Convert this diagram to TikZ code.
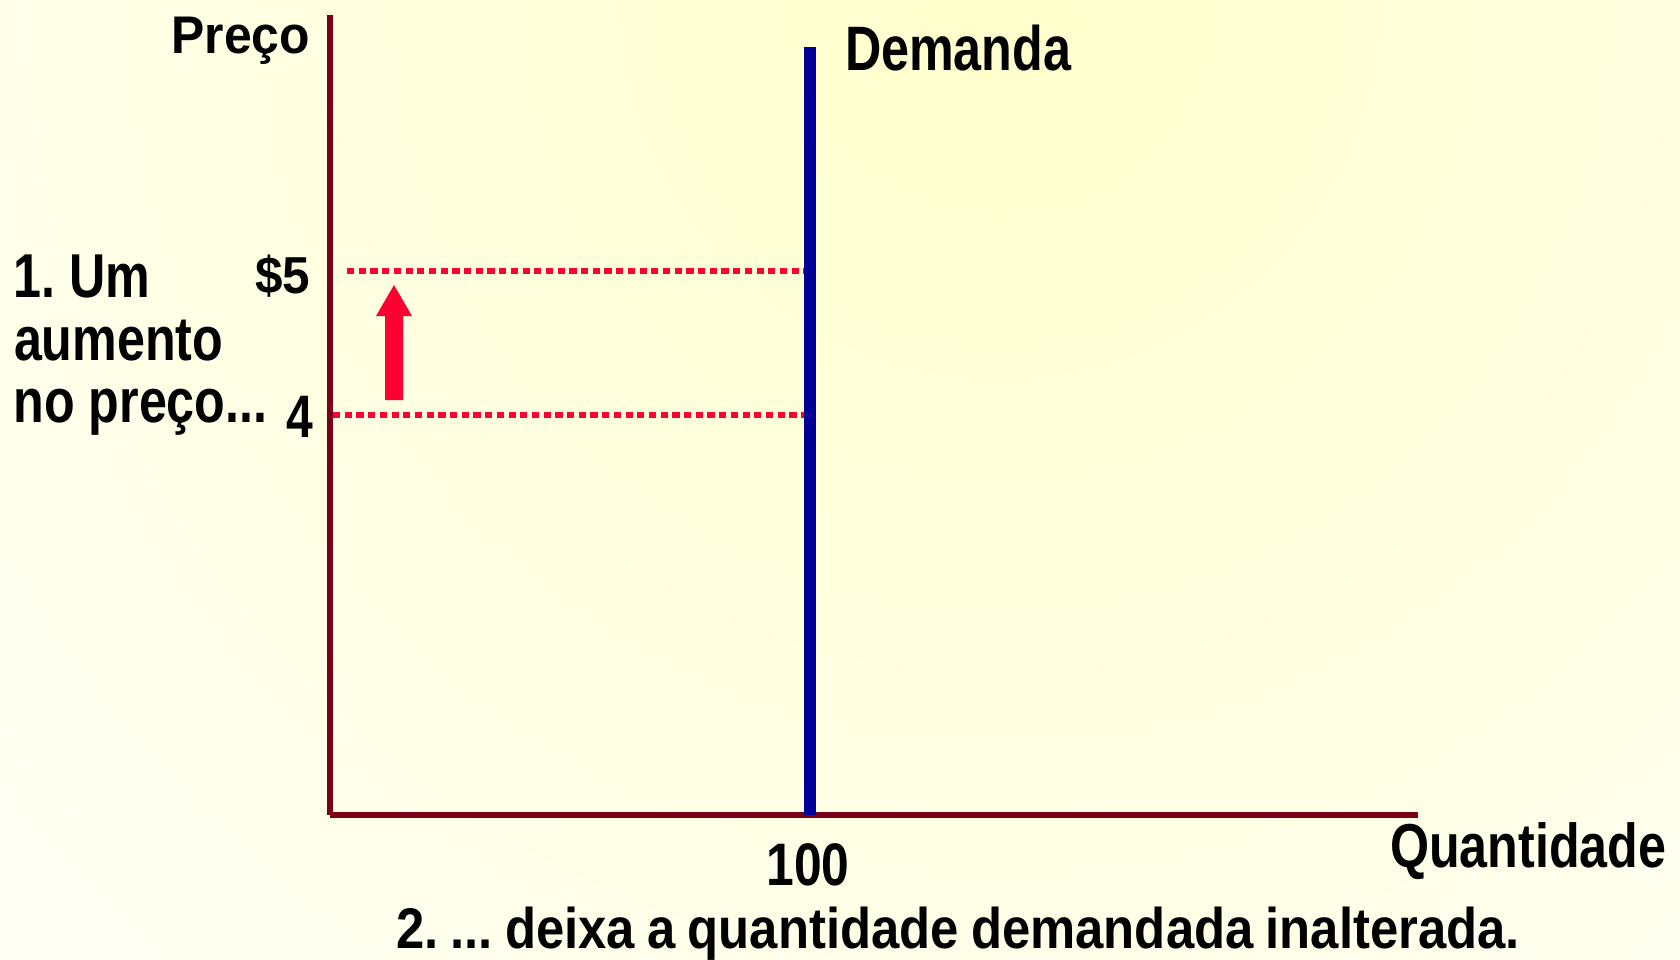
\documentclass[tikz,border=0pt]{standalone}
\usepackage{fontspec}
\setmainfont{Liberation Sans}
\usetikzlibrary{arrows.meta}
\definecolor{axiscol}{HTML}{7A0018}
\definecolor{demcol}{HTML}{000099}
\definecolor{redcol}{HTML}{FF0033}
\definecolor{bgin}{HTML}{FFFFCC}
\definecolor{bgout}{HTML}{FFFFF8}
\frenchspacing
\newcommand\lbl[3]{\scalebox{#2}[1]{\fontsize{#1}{#1}\selectfont\bfseries #3}}
\begin{document}
\begin{tikzpicture}[x=0.5pt,y=-0.5pt,
  lab/.style={inner sep=0pt, outer sep=0pt, text=black},
  axisline/.style={draw=axiscol, line width=3pt},
  demline/.style={draw=demcol, line width=6pt},
  guide/.style={draw=redcol, line width=2.7pt, dash pattern=on 3.6pt off 2.25pt},
  bigarrow/.style={fill=redcol, draw=none}]
\useasboundingbox (0,0) rectangle (1680,959);
\begin{scope}
  \clip (0,0) rectangle (1680,959);
  \fill[bgout] (0,0) rectangle (1680,959);
  \shade[inner color=bgin, outer color=bgout] (1000,0) circle (1450);
\end{scope}
% coordinates
\coordinate (O) at (330,815);
\coordinate (Ytop) at (330,15);
\coordinate (Xend) at (1418,815);
\coordinate (Dtop) at (810,47);
\coordinate (Dbot) at (810,815);
\coordinate (p5s) at (347,271);
\coordinate (p5e) at (804,271);
\coordinate (p4s) at (333,415);
\coordinate (p4e) at (804,415);
% guides
\draw[guide] (p5s) -- (p5e);
\draw[guide] (p4s) -- (p4e);
% axes
\draw[axisline] (Ytop) -- (O);
\draw[axisline] (O) -- (Xend);
% demand
\draw[demline] (Dtop) -- (Dbot);
% arrow
\fill[bigarrow] (385,400) -- (403,400) -- (403,316) -- (412,316) -- (394,285) -- (376,316) -- (385,316) -- cycle;
% labels
\node[lab, anchor=base east] (preco) at (310,53) {\lbl{26.5}{0.94}{Preço}};
\node[lab, anchor=base west] (demanda) at (845,70) {\lbl{31.4}{0.80}{Demanda}};
\node[lab, anchor=base east] (p5) at (310,293) {\lbl{26}{0.95}{\$5}};
\node[lab, anchor=base east] (p4) at (313,437) {\lbl{30}{0.80}{4}};
\node[lab, anchor=base west] (l1) at (13.5,297) {\lbl{31}{0.81}{1. Um}};
\node[lab, anchor=base west] (l2) at (14,360) {\lbl{31}{0.81}{aumento}};
\node[lab, anchor=base west] (l3) at (13.5,422) {\lbl{31}{0.81}{no preço...}};
\node[lab, anchor=base] (q100) at (808,885) {\lbl{30}{0.83}{100}};
\node[lab, anchor=base west] (quant) at (1390,867) {\lbl{31}{0.81}{Quantidade}};
\node[lab, anchor=base] (bottom) at (958,948) {\lbl{28.65}{0.887}{\spaceskip=0.24em 2. ... deixa a quantidade demandada inalterada.}};
\end{tikzpicture}
\end{document}
